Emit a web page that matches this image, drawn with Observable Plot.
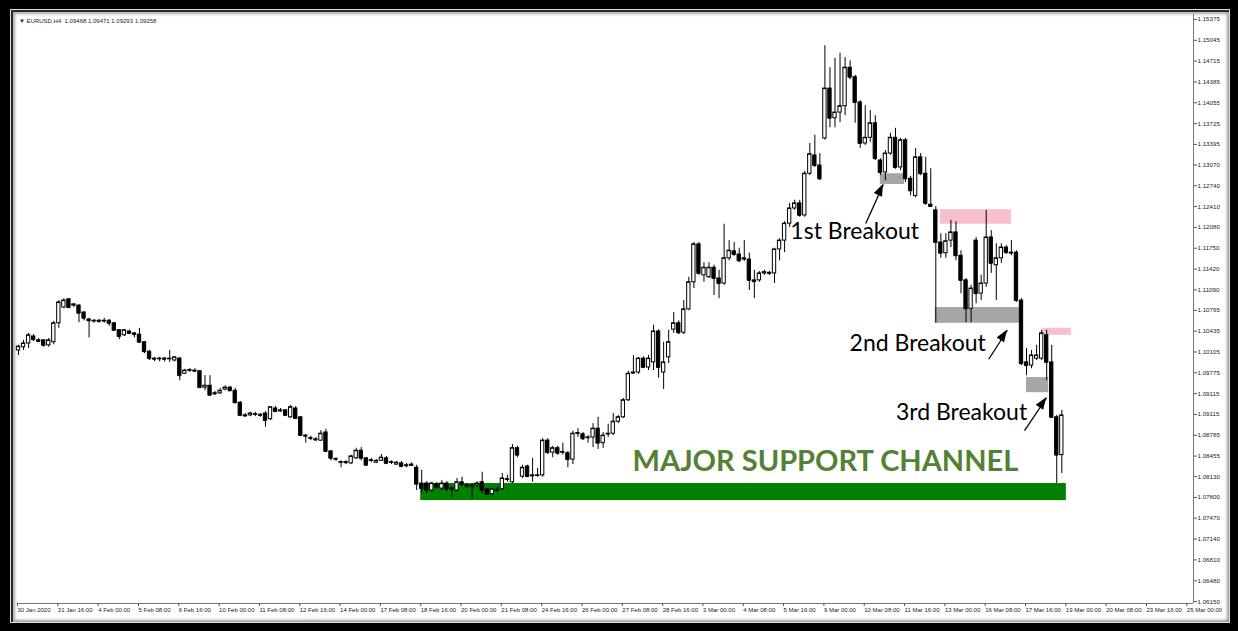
<!DOCTYPE html>
<html><head><meta charset="utf-8">
<script src="https://cdn.jsdelivr.net/npm/d3@7"></script>
<script src="https://cdn.jsdelivr.net/npm/@observablehq/plot@0.6"></script>
<style>
html,body{margin:0;padding:0;background:#000;}
body{width:1238px;height:631px;position:relative;overflow:hidden;}
#win{position:absolute;left:11px;top:10px;width:1218px;height:612px;background:#fff;
 box-shadow: inset 2px 2px 0 #2a2a2a, inset 4px 4px 3px #aaa, inset -2px -2px 3px #999;outline:1px solid #ddd;}
#chart{position:absolute;left:12px;top:12px;width:1216px;height:608px;}
#hdr{position:absolute;left:19px;top:18px;font:6px "Liberation Sans",sans-serif;color:#222;white-space:pre;}
</style></head><body>
<div id="win"></div>
<div id="chart"></div>
<div id="hdr">▼ EURUSD,H4  1.09468 1.09471 1.09293 1.09358</div>
<script>
// ---- H4 candles (bar index 0 = first bar on 30 Jan) ----
const opens = [1.1013,1.1018,1.1024,1.1035,1.1029,1.1029,1.1021,1.1026,1.1056,1.1081,
1.1094,1.1084,1.1084,1.1073,1.1062,1.1059,1.1060,1.1059,1.1060,1.1056,
1.1045,1.1037,1.1043,1.1040,1.1038,1.1026,1.1011,1.1000,1.0999,1.1000,
1.0999,1.0997,1.1000,1.0976,1.0981,1.0981,1.0980,1.0954,1.0957,1.0945,
1.0945,1.0951,1.0954,1.0949,1.0930,1.0910,1.0910,1.0911,1.0911,1.0913,
1.0904,1.0921,1.0918,1.0918,1.0907,1.0921,1.0907,1.0878,1.0873,1.0872,
1.0870,1.0883,1.0853,1.0840,1.0835,1.0836,1.0834,1.0842,1.0854,1.0842,
1.0838,1.0835,1.0838,1.0842,1.0835,1.0832,1.0834,1.0831,1.0830,1.0827,
1.0802,1.0802,1.0791,1.0801,1.0794,1.0802,1.0794,1.0791,1.0804,1.0799,
1.0796,1.0799,1.0804,1.0793,1.0785,1.0791,1.0793,1.0808,1.0804,1.0858,
1.0813,1.0829,1.0815,1.0814,1.0815,1.0870,1.0851,1.0858,1.0851,1.0850,
1.0840,1.0881,1.0880,1.0874,1.0875,1.0889,1.0866,1.0880,1.0881,1.0900,
1.0907,1.0934,1.0978,1.0978,1.1000,1.0986,1.0994,1.1043,1.0978,1.1002,
1.1046,1.1056,1.1041,1.1078,1.1121,1.1181,1.1132,1.1129,1.1144,1.1127,
1.1119,1.1159,1.1170,1.1165,1.1157,1.1157,1.1124,1.1124,1.1135,1.1136,
1.1135,1.1173,1.1187,1.1214,1.1238,1.1246,1.1227,1.1293,1.1322,1.1306,
1.1349,1.1428,1.1381,1.1390,1.1400,1.1461,1.1446,1.1406,1.1341,1.1350,
1.1373,1.1314,1.1295,1.1325,1.1350,1.1303,1.1346,1.1285,1.1258,1.1319,
1.1293,1.1244,1.1235,1.1184,1.1167,1.1187,1.1200,1.1163,1.1124,1.1079,
1.1187,1.1103,1.1119,1.1192,1.1148,1.1159,1.1176,1.1168,1.1168,1.1092,
1.0994,1.0989,1.1000,1.1000,1.1037,1.0994,1.0907,1.0847];
const highs = [1.1021,1.1029,1.1040,1.1038,1.1032,1.1030,1.1032,1.1059,1.1092,1.1095,
1.1095,1.1087,1.1086,1.1075,1.1064,1.1062,1.1062,1.1064,1.1062,1.1057,
1.1046,1.1046,1.1045,1.1041,1.1048,1.1027,1.1013,1.1002,1.1002,1.1002,
1.1013,1.1003,1.1002,1.0983,1.0984,1.0984,1.0981,1.0973,1.0973,1.0948,
1.0953,1.0957,1.0956,1.0953,1.0932,1.0913,1.0915,1.0915,1.0913,1.0916,
1.0924,1.0924,1.0921,1.0919,1.0926,1.0924,1.0908,1.0880,1.0877,1.0875,
1.0886,1.0888,1.0854,1.0843,1.0838,1.0838,1.0847,1.0858,1.0859,1.0843,
1.0842,1.0840,1.0848,1.0845,1.0838,1.0837,1.0837,1.0834,1.0835,1.0831,
1.0823,1.0805,1.0804,1.0804,1.0807,1.0805,1.0797,1.0810,1.0812,1.0802,
1.0802,1.0805,1.0820,1.0794,1.0794,1.0796,1.0818,1.0815,1.0864,1.0861,
1.0831,1.0831,1.0842,1.0826,1.0873,1.0873,1.0861,1.0861,1.0866,1.0853,
1.0885,1.0889,1.0883,1.0878,1.0897,1.0907,1.0883,1.0896,1.0913,1.0910,
1.0937,1.0980,1.1005,1.1002,1.1003,1.1005,1.1053,1.1046,1.1026,1.1045,
1.1073,1.1060,1.1092,1.1129,1.1184,1.1184,1.1152,1.1152,1.1148,1.1140,
1.1213,1.1187,1.1184,1.1175,1.1187,1.1167,1.1140,1.1138,1.1140,1.1138,
1.1175,1.1190,1.1217,1.1246,1.1251,1.1251,1.1297,1.1341,1.1354,1.1325,
1.1496,1.1461,1.1476,1.1484,1.1477,1.1472,1.1449,1.1409,1.1401,1.1393,
1.1385,1.1317,1.1330,1.1357,1.1365,1.1349,1.1349,1.1289,1.1333,1.1325,
1.1319,1.1301,1.1241,1.1198,1.1198,1.1219,1.1217,1.1171,1.1127,1.1116,
1.1192,1.1132,1.1235,1.1203,1.1182,1.1182,1.1179,1.1187,1.1171,1.1095,
1.1016,1.1013,1.1021,1.1045,1.1045,1.1021,1.0910,1.0918];
const lows = [1.1005,1.1013,1.1016,1.1027,1.1026,1.1018,1.1018,1.1022,1.1048,1.1079,
1.1079,1.1081,1.1057,1.1060,1.1033,1.1056,1.1056,1.1056,1.1051,1.1043,
1.1030,1.1035,1.1038,1.1033,1.1024,1.1008,1.0997,1.0995,1.0995,1.0995,
1.0994,1.0995,1.0965,1.0975,1.0978,1.0978,1.0953,1.0949,1.0940,1.0942,
1.0943,1.0949,1.0948,1.0929,1.0908,1.0907,1.0908,1.0908,1.0907,1.0891,
1.0902,1.0915,1.0915,1.0908,1.0905,1.0904,1.0877,1.0866,1.0870,1.0869,
1.0869,1.0851,1.0838,1.0837,1.0827,1.0832,1.0832,1.0840,1.0838,1.0829,
1.0835,1.0834,1.0837,1.0832,1.0832,1.0831,1.0827,1.0827,1.0829,1.0791,
1.0786,1.0786,1.0789,1.0793,1.0791,1.0789,1.0780,1.0789,1.0797,1.0794,
1.0778,1.0796,1.0786,1.0783,1.0783,1.0788,1.0791,1.0804,1.0802,1.0843,
1.0810,1.0812,1.0804,1.0812,1.0812,1.0848,1.0843,1.0847,1.0847,1.0827,
1.0832,1.0875,1.0870,1.0866,1.0859,1.0856,1.0858,1.0875,1.0878,1.0897,
1.0905,1.0932,1.0975,1.0975,1.0984,1.0981,1.0981,1.0969,1.0951,1.0992,
1.1040,1.1038,1.1038,1.1076,1.1111,1.1132,1.1121,1.1127,1.1100,1.1095,
1.1116,1.1155,1.1162,1.1152,1.1154,1.1108,1.1095,1.1121,1.1132,1.1132,
1.1119,1.1155,1.1168,1.1208,1.1235,1.1224,1.1224,1.1290,1.1303,1.1282,
1.1346,1.1366,1.1366,1.1374,1.1385,1.1442,1.1373,1.1333,1.1338,1.1343,
1.1314,1.1290,1.1282,1.1322,1.1300,1.1298,1.1279,1.1258,1.1255,1.1290,
1.1243,1.1240,1.1056,1.1159,1.1159,1.1176,1.1155,1.1103,1.1057,1.1057,
1.1087,1.1092,1.1113,1.1135,1.1092,1.1151,1.1165,1.1163,1.1089,1.0989,
1.0973,1.0984,1.0997,1.0997,1.0965,1.0905,1.0802,1.0818];
const closes = [1.1019,1.1024,1.1037,1.1030,1.1027,1.1021,1.1029,1.1056,1.1089,1.1092,
1.1081,1.1086,1.1072,1.1064,1.1060,1.1060,1.1059,1.1060,1.1056,1.1045,
1.1035,1.1045,1.1040,1.1038,1.1026,1.1011,1.1000,1.0999,1.1000,1.0999,
1.1000,1.1002,1.0973,1.0981,1.0982,1.0980,1.0954,1.0957,1.0942,1.0944,
1.0949,1.0954,1.0949,1.0930,1.0910,1.0909,1.0913,1.0912,1.0910,1.0902,
1.0923,1.0916,1.0917,1.0910,1.0923,1.0905,1.0878,1.0877,1.0874,1.0871,
1.0881,1.0853,1.0842,1.0841,1.0836,1.0835,1.0845,1.0854,1.0842,1.0831,
1.0839,1.0838,1.0843,1.0834,1.0836,1.0835,1.0829,1.0830,1.0832,1.0801,
1.0794,1.0791,1.0802,1.0796,1.0802,1.0793,1.0793,1.0804,1.0801,1.0798,
1.0799,1.0802,1.0791,1.0785,1.0793,1.0792,1.0810,1.0809,1.0858,1.0847,
1.0827,1.0813,1.0814,1.0815,1.0870,1.0851,1.0858,1.0850,1.0852,1.0840,
1.0881,1.0882,1.0873,1.0875,1.0889,1.0866,1.0878,1.0881,1.0900,1.0907,
1.0934,1.0976,1.0977,1.1000,1.0986,1.1000,1.1043,1.0986,1.0994,1.1026,
1.1056,1.1041,1.1078,1.1121,1.1181,1.1135,1.1144,1.1144,1.1127,1.1119,
1.1159,1.1171,1.1165,1.1155,1.1159,1.1124,1.1122,1.1135,1.1137,1.1135,
1.1173,1.1187,1.1214,1.1238,1.1246,1.1227,1.1293,1.1324,1.1306,1.1285,
1.1428,1.1381,1.1390,1.1400,1.1461,1.1446,1.1406,1.1341,1.1350,1.1373,
1.1317,1.1295,1.1325,1.1350,1.1303,1.1346,1.1285,1.1266,1.1319,1.1293,
1.1246,1.1241,1.1184,1.1167,1.1186,1.1200,1.1163,1.1124,1.1079,1.1111,
1.1103,1.1119,1.1192,1.1151,1.1159,1.1176,1.1168,1.1167,1.1092,1.0992,
1.0989,1.1005,1.1005,1.1040,1.0994,1.0907,1.0847,1.0910];

// ---- axes ----
const xTickBars = [0,8,16,24,32,40,48,56,64,72,80,88,96,104,112,120,128,136,144,152,160,168,176,184,192,200,208,216,224,232];
const xTickLabels = ["30 Jan 2020","31 Jan 16:00","4 Feb 00:00","5 Feb 08:00","6 Feb 16:00","10 Feb 00:00","11 Feb 08:00","12 Feb 16:00","14 Feb 00:00","17 Feb 08:00","18 Feb 16:00","20 Feb 00:00","21 Feb 08:00","24 Feb 16:00","26 Feb 00:00","27 Feb 08:00","28 Feb 16:00","3 Mar 00:00","4 Mar 08:00","5 Mar 16:00","9 Mar 00:00","10 Mar 08:00","11 Mar 16:00","13 Mar 00:00","16 Mar 08:00","17 Mar 16:00","19 Mar 00:00","20 Mar 08:00","23 Mar 16:00","25 Mar 00:00"];
const yTickValues = [1.15375,1.15045,1.14715,1.14385,1.14055,1.13725,1.13395,1.13070,1.12740,1.12410,1.12080,1.11750,1.11420,1.11090,1.10765,1.10435,1.10105,1.09775,1.09445,1.09115,1.08785,1.08455,1.08130,1.07800,1.07470,1.07140,1.06810,1.06480,1.06150];
const yTickLabels = ["1.15375","1.15045","1.14715","1.14385","1.14055","1.13725","1.13395","1.13070","1.12740","1.12410","1.12080","1.11750","1.11420","1.11090","1.10765","1.10435","1.10105","1.09775","1.09115","1.09115","1.08785","1.08455","1.08130","1.07800","1.07470","1.07140","1.06810","1.06480","1.06150"];

// ---- annotations (bar index / price) ----
const supportZone = [{b1: 79.8, b2: 207.9, p1: 1.0775, p2: 1.0802}];
const pinkZones = [{b1: 182.9, b2: 197.0, p1: 1.1213, p2: 1.1236}, {b1: 203.2, b2: 208.9, p1: 1.1037, p2: 1.1048}];
const grayZones = [{b1: 171.0, b2: 175.8, p1: 1.1276, p2: 1.1293}, {b1: 181.9, b2: 198.6, p1: 1.1056, p2: 1.1081}, {b1: 200.0, b2: 204.4, p1: 1.0946, p2: 1.0970}];
const breakoutLabels = [{text: "1st Breakout", b: 165.9, p: 1.1202}, {text: "2nd Breakout", b: 178.4, p: 1.1024}, {text: "3rd Breakout", b: 187.1, p: 1.0915}];
const channelLabel = [{text: "MAJOR SUPPORT CHANNEL", b: 160.1, p: 1.0837}];
const arrows = [{b1: 168.1, p1: 1.1214, b2: 171.6, p2: 1.1276}, {b1: 192.5, p1: 1.0999, b2: 196.2, p2: 1.1045}, {b1: 199.6, p1: 1.0886, b2: 204.0, p2: 1.0938}];

const bars = opens.map((o, i) => ({i, o, h: highs[i], l: lows[i], c: closes[i]}));
const xLab = new Map(xTickBars.map((b, k) => [b, xTickLabels[k]]));
const yLab = new Map(yTickValues.map((v, k) => [v, yTickLabels[k]]));
const xMin = -0.2, xMax = 233.13, yMin = 1.06119, yMax = 1.15454;

const plot = Plot.plot({
  width: 1216, height: 608,
  marginLeft: 5, marginRight: 35, marginTop: 2, marginBottom: 17,
  x: {type: "linear", domain: [xMin, xMax]},
  y: {type: "linear", domain: [yMin, yMax]},
  style: {background: "transparent", fontFamily: "Liberation Sans, sans-serif", color: "#222", overflow: "visible"},
  marks: [
    Plot.rect(supportZone, {x1: "b1", x2: "b2", y1: "p1", y2: "p2", fill: "#008000"}),
    Plot.rect(pinkZones, {x1: "b1", x2: "b2", y1: "p1", y2: "p2", fill: "#f8c0cb"}),
    Plot.rect(grayZones, {x1: "b1", x2: "b2", y1: "p1", y2: "p2", fill: "#a6a6a6"}),
    Plot.ruleX(bars, {x: "i", y1: "l", y2: "h", stroke: "#000", strokeWidth: 1}),
    Plot.rect(bars.filter(d => d.c >= d.o), {x1: d => d.i - 0.33, x2: d => d.i + 0.33, y1: "o", y2: "c", fill: "#fff", stroke: "#000", strokeWidth: 1}),
    Plot.rect(bars.filter(d => d.c < d.o), {x1: d => d.i - 0.33, x2: d => d.i + 0.33, y1: "o", y2: "c", fill: "#000", stroke: "#000", strokeWidth: 1}),
    Plot.ruleY(bars, {y: "c", x1: d => d.i - 0.33, x2: d => d.i + 0.33, stroke: "#000", strokeWidth: 1}),
    Plot.ruleX([xMax], {stroke: "#777"}),
    Plot.ruleY([yMin], {stroke: "#777"}),
    Plot.axisY(yTickValues, {anchor: "right", tickSize: 3, tickPadding: 1, fontSize: 6.2, tickFormat: d => yLab.get(d), stroke: "#555"}),
    Plot.axisX(xTickBars, {anchor: "bottom", tickSize: 3, tickPadding: 1, fontSize: 6, tickFormat: d => xLab.get(d), textAnchor: "start", dx: -1, stroke: "#555"}),
    Plot.text(breakoutLabels, {x: "b", y: "p", text: "text", fontSize: 23, fontFamily: "Lato", fill: "#000"}),
    Plot.text(channelLabel, {x: "b", y: "p", text: "text", fontSize: 29, fontWeight: "bold", fontFamily: "Lato", fill: "#548235"}),
    Plot.link(arrows, {x1: "b1", y1: "p1", x2: "b2", y2: "p2", stroke: "#000", strokeWidth: 1.3})
  ]
});

// filled arrowheads positioned with the plot's own scales
const sx = plot.scale("x"), sy = plot.scale("y");
const g = d3.select(plot).append("g").attr("class", "heads");
for (const a of arrows) {
  const x1 = sx.apply(a.b1), y1 = sy.apply(a.p1), x2 = sx.apply(a.b2), y2 = sy.apply(a.p2);
  const ang = Math.atan2(y2 - y1, x2 - x1), L = 12, w = 4.5;
  const bx = x2 - L * Math.cos(ang), by = y2 - L * Math.sin(ang);
  const pts = [[x2, y2], [bx + w * Math.sin(ang), by - w * Math.cos(ang)], [bx - w * Math.sin(ang), by + w * Math.cos(ang)]];
  g.append("polygon").attr("points", pts.map(p => p.join(",")).join(" ")).attr("fill", "#000");
}
document.getElementById("chart").appendChild(plot);
</script>
</body></html>
